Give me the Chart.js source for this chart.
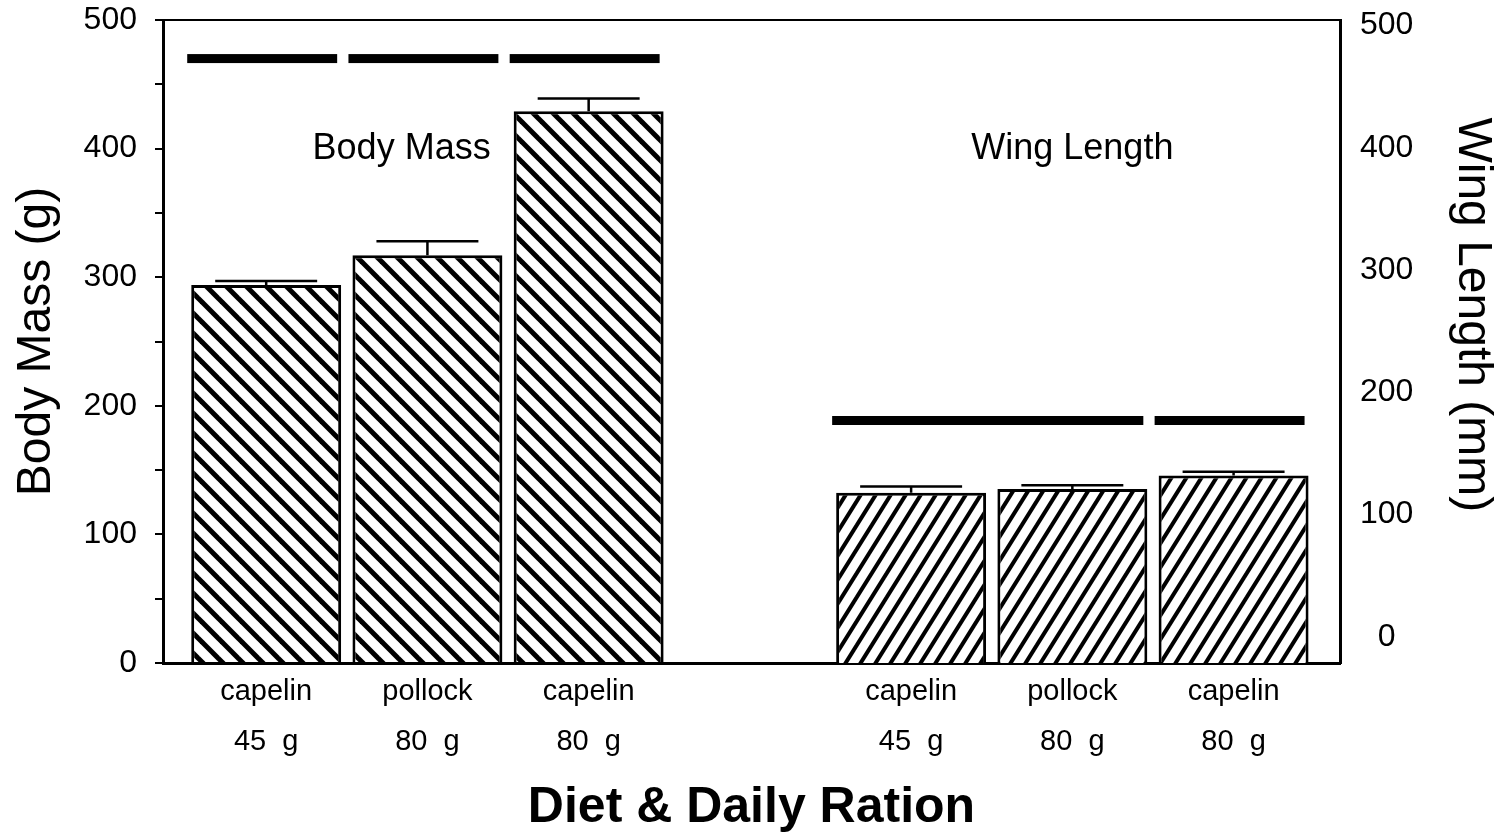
<!DOCTYPE html>
<html>
<head>
<meta charset="utf-8">
<script src="https://cdn.jsdelivr.net/npm/chart.js@4.4.1/dist/chart.umd.min.js"></script>
<style>
  html, body { margin: 0; padding: 0; background: #fff; }
  #wrap { width: 1507px; height: 834px; }
</style>
</head>
<body>
<div id="wrap"><canvas id="chart"></canvas></div>
<script>
// categories (same three diets for both groups)
var groupLabels = [['capelin', '45  g'], ['pollock', '80  g'], ['capelin', '80  g']];
var groupTitles = ['Body Mass', 'Wing Length'];

// body mass (g), left axis
var bodyMass = [294, 317, 429];
var bodyMassErr = [3, 11, 10];
var bodyMassTicks = [0, 100, 200, 300, 400, 500];
// bars joined by one significance line
var bodyMassSig = [[0, 0], [1, 1], [2, 2]];
var bodyMassSigLevel = 470;

// wing length (mm), right axis
var wingLength = [118, 121, 132];
var wingLengthErr = [5, 3, 3];
var wingLengthTicks = [0, 100, 200, 300, 400, 500];
var wingLengthSig = [[0, 1], [2, 2]];
var wingLengthSigLevel = 177;

// the right axis of the original is shifted against the left one
var wingMin = -21.3, wingMax = 504.5;

var FONT = '"Liberation Sans", Arial, Helvetica, sans-serif';
Chart.defaults.font.family = FONT;
Chart.defaults.color = '#000';

var gapSlots = [null];
var labels = groupLabels.concat([''], groupLabels);
var bodyData = bodyMass.concat(gapSlots, wingLength.map(function () { return null; }));
var wingData = bodyMass.map(function () { return null; }).concat(gapSlots, wingLength);
var wingStart = bodyMass.length + 1;

function hatch(dir, w, h, lw) {
  var c = document.createElement('canvas');
  c.width = w; c.height = h;
  var g = c.getContext('2d');
  g.fillStyle = '#fff';
  g.fillRect(0, 0, w, h);
  g.strokeStyle = '#000';
  g.lineWidth = lw;
  for (var k = -1; k <= 1; k++) {
    g.beginPath();
    if (dir === 'back') {
      g.moveTo(k * w - w, -h); g.lineTo(k * w + 2 * w, 2 * h);
    } else {
      g.moveTo(k * w - w, 2 * h); g.lineTo(k * w + 2 * w, -h);
    }
    g.stroke();
  }
  return g.createPattern(c, 'repeat');
}

function drawErrors(chart, dsIndex, start, vals, errs) {
  var ctx = chart.ctx;
  var meta = chart.getDatasetMeta(dsIndex);
  var scale = chart.scales[meta.yAxisID];
  vals.forEach(function (v, i) {
    var bar = meta.data[start + i];
    var top = scale.getPixelForValue(v + errs[i]);
    var half = bar.width * 0.34;
    ctx.beginPath();
    ctx.moveTo(bar.x, bar.y);
    ctx.lineTo(bar.x, top);
    ctx.moveTo(bar.x - half, top);
    ctx.lineTo(bar.x + half, top);
    ctx.stroke();
  });
}

function drawSig(chart, dsIndex, start, groups, level) {
  var ctx = chart.ctx;
  var meta = chart.getDatasetMeta(dsIndex);
  var y = chart.scales[meta.yAxisID].getPixelForValue(level);
  groups.forEach(function (gr) {
    var a = meta.data[start + gr[0]], b = meta.data[start + gr[1]];
    var x0 = a.x - a.width / 2 - 4;
    var x1 = b.x + b.width / 2 - 4;
    ctx.fillRect(x0, y - 4.5, x1 - x0, 9);
  });
}

var overlay = {
  id: 'overlay',
  afterDatasetsDraw: function (chart) {
    var ctx = chart.ctx, area = chart.chartArea;
    ctx.save();
    ctx.strokeStyle = '#000';
    ctx.fillStyle = '#000';
    ctx.lineWidth = 2;
    ctx.beginPath();
    ctx.moveTo(area.left, area.top);
    ctx.lineTo(area.right, area.top);
    ctx.stroke();

    ctx.lineWidth = 2.5;
    drawErrors(chart, 0, 0, bodyMass, bodyMassErr);
    drawErrors(chart, 1, wingStart, wingLength, wingLengthErr);
    drawSig(chart, 0, 0, bodyMassSig, bodyMassSigLevel);
    drawSig(chart, 1, wingStart, wingLengthSig, wingLengthSigLevel);

    ctx.font = '36px ' + FONT;
    ctx.textAlign = 'center';
    ctx.textBaseline = 'middle';
    var yText = chart.scales.y.getPixelForValue(400);
    ctx.fillText(groupTitles[0], chart.scales.x.getPixelForValue(0.84), yText);
    ctx.fillText(groupTitles[1], chart.scales.x.getPixelForValue(5), yText);
    ctx.restore();
  }
};

// keep the tick label overhang from pushing the plot area down
function noOverhang(s) { s.paddingTop = 0; s.paddingBottom = 0; }

var barStyle = {
  borderColor: '#000',
  borderWidth: 3,
  grouped: false,
  categoryPercentage: 0.93,
  barPercentage: 1
};

new Chart(document.getElementById('chart'), {
  type: 'bar',
  data: {
    labels: labels,
    datasets: [
      Object.assign({
        label: groupTitles[0],
        data: bodyData,
        yAxisID: 'y',
        backgroundColor: hatch('back', 20, 20, 5)
      }, barStyle),
      Object.assign({
        label: groupTitles[1],
        data: wingData,
        yAxisID: 'y2',
        base: wingMin,
        backgroundColor: hatch('fwd', 15, 24, 4)
      }, barStyle)
    ]
  },
  options: {
    responsive: true,
    maintainAspectRatio: false,
    animation: false,
    layout: { padding: { top: 20, left: 0, right: 0, bottom: 0 } },
    plugins: { legend: { display: false }, tooltip: { enabled: false } },
    scales: {
      x: {
        // the gap between the two groups is a bit narrower than one full slot
        afterBuildTicks: function (s) { s._startValue = -0.64; s._valueRange = 7.3; },
        afterFit: function (s) { s.height = 171; },
        grid: { display: false, drawTicks: false },
        border: { display: true, color: '#000', width: 3 },
        ticks: {
          autoSkip: false, maxRotation: 0, padding: 4,
          font: { size: 29, lineHeight: 50 / 29 }
        },
        title: {
          display: true, text: 'Diet & Daily Ration',
          font: { size: 50, weight: 'bold', lineHeight: 1 },
          padding: { top: 0, bottom: 1 }
        }
      },
      y: {
        position: 'left',
        min: 0, max: 500,
        afterFit: function (s) { s.width = 163; noOverhang(s); },
        ticks: {
          stepSize: 50, padding: 18,
          font: { size: 32 },
          callback: function (v) { return bodyMassTicks.indexOf(v) >= 0 ? v : ''; }
        },
        grid: { drawOnChartArea: false, drawTicks: true, tickLength: 8, color: '#000', lineWidth: 2 },
        border: { color: '#000', width: 3 },
        title: { display: true, text: 'Body Mass (g)', font: { size: 48 }, padding: { top: 8 } }
      },
      y2: {
        position: 'right',
        min: wingMin, max: wingMax, bounds: 'data',
        afterBuildTicks: function (s) {
          s.ticks = wingLengthTicks.map(function (v) { return { value: v }; });
        },
        afterFit: function (s) { s.width = 167; noOverhang(s); },
        ticks: { padding: 20, crossAlign: 'center', font: { size: 32 } },
        grid: { display: false, drawTicks: false },
        border: { color: '#000', width: 3 },
        // trailing spaces lift the centred title a little, as in the original
        title: { display: true, text: 'Wing Length (mm)    ', font: { size: 48 }, padding: { top: 6 } }
      }
    }
  },
  plugins: [overlay]
});
</script>
</body>
</html>
